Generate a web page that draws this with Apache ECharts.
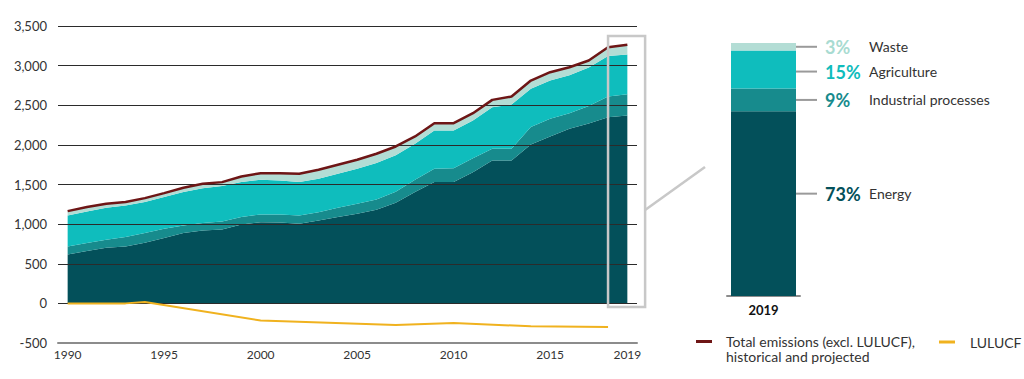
<!DOCTYPE html>
<html>
<head>
<meta charset="utf-8">
<script src="https://cdn.jsdelivr.net/npm/echarts@6/dist/echarts.min.js"></script>
<style>
html,body{margin:0;padding:0;background:#ffffff;}
#chart{width:1024px;height:379px;}
</style>
</head>
<body>
<div id="chart"></div>
<script>
// ---- data ----
const years = [1990,1991,1992,1993,1994,1995,1996,1997,1998,1999,2000,2001,2002,2003,2004,2005,2006,2007,2008,2009,2010,2011,2012,2013,2014,2015,2016,2017,2018,2019];
const energy      = [618,660,702,719,765,824,887,921,933,996,1025,1020,1005,1047,1089,1131,1182,1270,1404,1530,1530,1656,1803,1803,2005,2106,2205,2270,2350,2371];
const industrial  = [101,101,101,117,122,118,97,92,101,93,97,102,105,104,117,126,129,140,156,168,176,174,147,147,219,223,195,220,260,269];
const agriculture = [391,399,404,400,391,399,420,441,446,441,438,429,420,421,429,441,459,460,454,484,476,478,526,560,483,483,480,485,510,500];
const waste       = [54,55,50,42,50,50,55,55,50,71,83,92,105,114,114,114,118,110,92,92,92,92,92,100,105,105,100,90,113,122];
const totalEmissions = [1164,1215,1257,1278,1328,1391,1459,1509,1530,1601,1643,1643,1635,1686,1749,1812,1888,1980,2106,2274,2274,2400,2568,2610,2812,2917,2980,3065,3233,3262];
const lulucfYears  = [1990,1993,1994,2000,2007,2010,2014,2018];
const lulucfValues = [0,0,18,-217,-273,-248,-290,-298];
const xTickLabels = [1990,1995,2000,2005,2010,2015,2019];
const yMin = -500, yMax = 3500, yStep = 500;

const shareCategory = ['2019'];
const shareNames = ['Energy','Industrial processes','Agriculture','Waste'];
const sharePct = [73,9,15,3];

const totalName = 'Total emissions (excl. LULUCF), historical and projected';
const lulucfName = 'LULUCF';

// ---- styles ----
const FONT = 'Lato, "Open Sans", sans-serif';
const sectorColors = ['#03505a','#178b8d','#0fbdbd','#b3ddd5'];
const pctColors = ['#03505a','#178b8d','#10bcbc','#a8dbd1'];
const labelOffsets = [[0,-10],[0,0],[0,2],[0,0]];

const sectorData = [energy, industrial, agriculture, waste];
const lulucfSeriesData = years.map(y => {
  const k = lulucfYears.indexOf(y);
  return k >= 0 ? lulucfValues[k] : null;
});

const chart = echarts.init(document.getElementById('chart'), null, {renderer: 'svg'});

const areaSeries = shareNames.map((name, i) => ({
  type: 'line',
  name: name,
  stack: 'emissions',
  xAxisIndex: 0, yAxisIndex: 0,
  data: sectorData[i],
  symbol: 'none',
  silent: true,
  lineStyle: {width: 0},
  itemStyle: {color: sectorColors[i]},
  areaStyle: {color: sectorColors[i], opacity: 1},
  z: 2
}));

const barSeries = shareNames.map((name, i) => ({
  type: 'bar',
  name: name + ' share',
  stack: 'share',
  xAxisIndex: 1, yAxisIndex: 1,
  barWidth: 65,
  data: [sharePct[i]],
  itemStyle: {color: sectorColors[i]},
  silent: true,
  label: {
    show: true,
    position: 'right',
    distance: 0,
    offset: labelOffsets[i],
    formatter: () => '{ln|}{sp|}{p|' + sharePct[i] + '%}{n|' + name + '}',
    rich: {
      ln: {width: 21, height: 2, backgroundColor: '#9a9a9a'},
      sp: {width: 8},
      p: {width: 44, fontSize: 18, fontWeight: 'bold', color: pctColors[i], fontFamily: FONT},
      n: {fontSize: 14, color: '#333333', fontFamily: FONT}
    }
  }
}));

const option = {
  animation: false,
  backgroundColor: '#ffffff',
  textStyle: {fontFamily: FONT},
  grid: [
    {left: 58, right: 387, top: 26, bottom: 36},
    {left: 727, right: 224, top: 43, bottom: 83}
  ],
  xAxis: [
    {
      type: 'category', gridIndex: 0, data: years.map(String),
      boundaryGap: true,
      z: 3,
      splitLine: {show: false},
      axisTick: {show: false},
      axisLine: {show: true, onZero: false, lineStyle: {color: '#8c8c8c', width: 2}},
      axisLabel: {
        interval: (idx, val) => xTickLabels.indexOf(Number(val)) >= 0,
        color: '#333333', fontSize: 12, margin: 5, fontFamily: FONT
      }
    },
    {
      type: 'category', gridIndex: 1, data: shareCategory,
      axisTick: {show: false},
      axisLine: {lineStyle: {color: '#8c8c8c', width: 2}},
      axisLabel: {color: '#111111', fontSize: 13, fontWeight: 'bold', margin: 7, fontFamily: FONT}
    }
  ],
  yAxis: [
    {
      type: 'value', gridIndex: 0, min: yMin, max: yMax, interval: yStep,
      z: 3,
      axisLine: {show: false},
      axisTick: {show: false},
      splitLine: {lineStyle: {color: '#2b2b2b', width: 1}},
      axisLabel: {formatter: v => v.toLocaleString('en-US'), color: '#333333', fontSize: 13, margin: 11, padding: [13,0,0,0], fontFamily: FONT}
    },
    {type: 'value', gridIndex: 1, min: 0, max: 100, show: false}
  ],
  legend: [
    {
      data: [totalName],
      left: 696, top: 319, padding: 0,
      icon: 'rect', itemWidth: 16, itemHeight: 3,
      formatter: n => '\n' + n.replace(', ', ',\n'),
      textStyle: {color: '#333333', fontSize: 14, lineHeight: 15, padding: [0,0,0,9], fontFamily: FONT},
      selectedMode: false
    },
    {
      data: [lulucfName],
      left: 939, top: 335, padding: 0,
      icon: 'rect', itemWidth: 16, itemHeight: 3,
      textStyle: {color: '#333333', fontSize: 14, padding: [0,0,0,10], fontFamily: FONT},
      selectedMode: false
    }
  ],
  series: areaSeries.concat([
    {
      type: 'line', name: totalName, xAxisIndex: 0, yAxisIndex: 0,
      data: totalEmissions,
      symbol: 'none', silent: true,
      itemStyle: {color: '#6e1616'},
      lineStyle: {color: '#6e1616', width: 2.5},
      z: 5
    },
    {
      type: 'line', name: lulucfName, xAxisIndex: 0, yAxisIndex: 0,
      data: lulucfSeriesData,
      connectNulls: true,
      symbol: 'none', silent: true,
      itemStyle: {color: '#f0b21f'},
      lineStyle: {color: '#f0b21f', width: 2},
      z: 5
    }
  ]).concat(barSeries)
};

chart.setOption(option);

// highlight box around the final years and connector to the share bar
const i18 = years.indexOf(2018), i19 = years.indexOf(2019);
const pA = chart.convertToPixel({gridIndex: 0}, [i18, 3374]);
const pB = chart.convertToPixel({gridIndex: 0}, [i19, -46]);
const band = pB[0] - pA[0];
const boxLeft = pA[0], boxRight = pB[0] + band * 0.92;
chart.setOption({
  graphic: [
    {
      type: 'rect', z: 100, silent: true,
      shape: {x: boxLeft, y: pA[1], width: boxRight - boxLeft, height: pB[1] - pA[1]},
      style: {fill: 'none', stroke: '#c8c8c8', lineWidth: 2.5}
    },
    {
      type: 'line', z: 100, silent: true,
      shape: {x1: boxRight, y1: 210, x2: 705, y2: 167},
      style: {stroke: '#c8c8c8', lineWidth: 2.5}
    }
  ]
});
</script>
</body>
</html>
